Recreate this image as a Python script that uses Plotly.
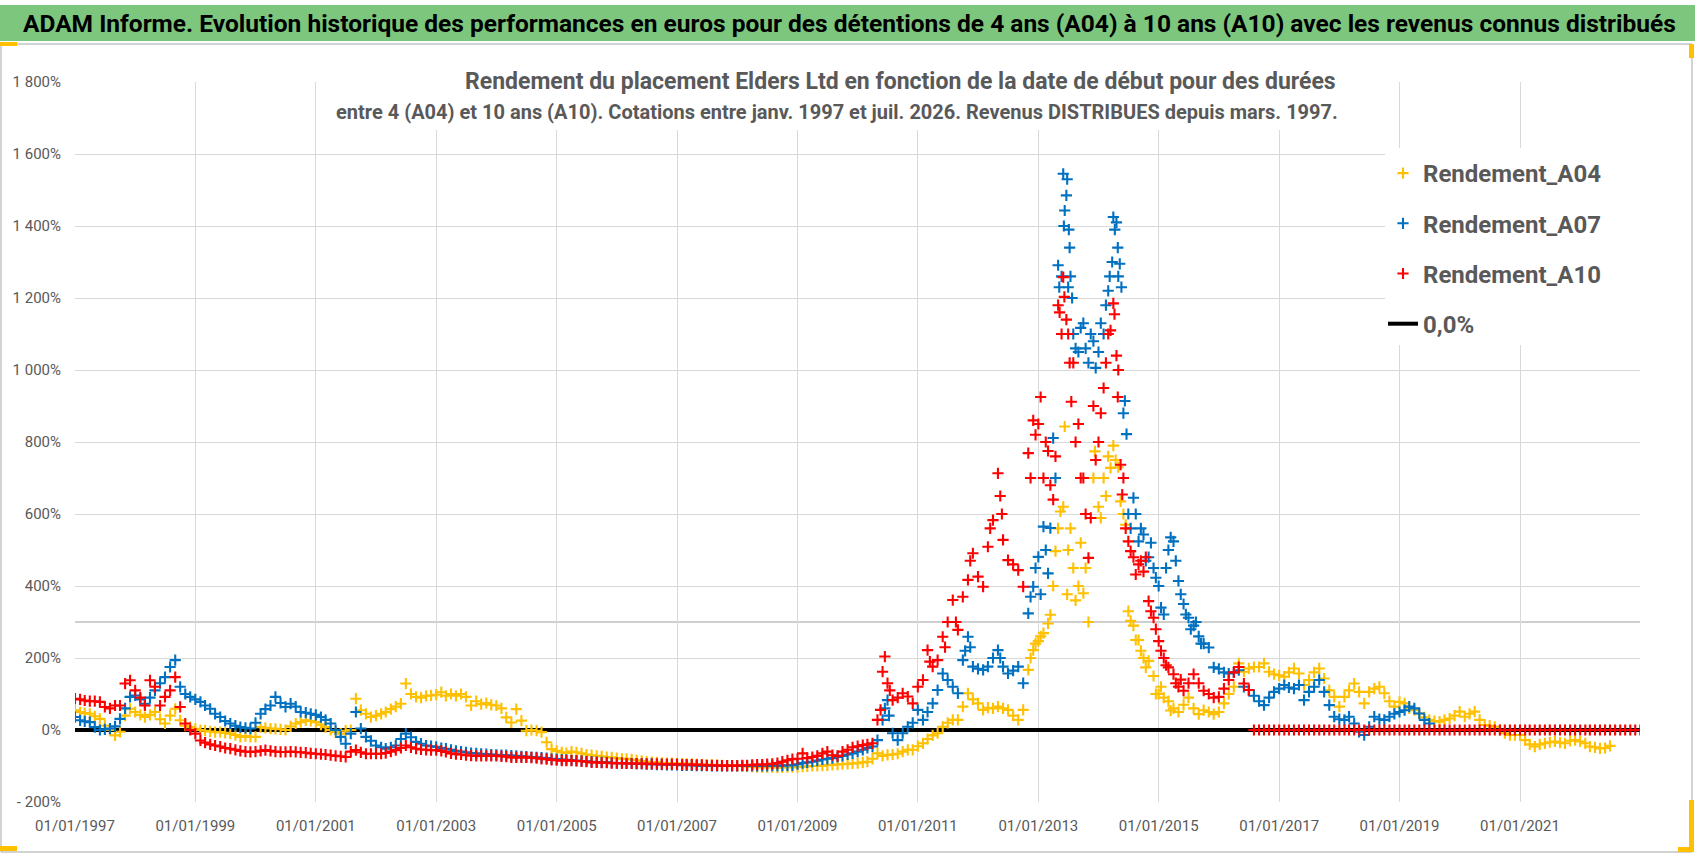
import pandas as pd
import plotly.graph_objects as go

# ---------------- data (% values) ----------------
A04_start = "1997-01-01"
A04_monthly = [
    55, 50, 47, 45, 38, 31, 12, 0, -15, -5, 40, 59,            # 1997
    50, 42, 36, 42, 50, 30, 18, 40, 59, 27, 12, 8,             # 1998
    3, 0, -2, -4, -6, -6, -8, -10, -14, -19, -17, -19,         # 1999
    -19, 8, 6, 4, 3, 2, 0, 10, 18, 22, 27, 25,                 # 2000
    22, 15, 8, 0, -6, -10, -2, 0, 87, 55, 45, 36,              # 2001
    40, 45, 50, 58, 65, 73, 129, 100, 92, 90, 95, 96,          # 2002
    98, 105, 95, 100, 95, 100, 92, 68, 80, 72, 75, 70,         # 2003
    68, 60, 35, 21, 58, 26, -2, 0, -2, -6, -34, -53,           # 2004
    -58, -62, -64, -60, -62, -65, -68, -70, -72, -73, -75, -76,  # 2005
    -78, -80, -80, -82, -84, -86, -88, -89, -90, -91, -92, -92,  # 2006
    -93, -93, -94, -94, -95, -96, -97, -97, -98, -98, -99, -99,  # 2007
    -100, -100, -101, -102, -103, -103, -103, -103, -104, -104, -103, -103,  # 2008
    -103, -102, -101, -100, -100, -99, -98, -97, -96, -95, -94, -93,  # 2009
    -92, -90, -88, -80, -65, -72, -69, -68, -66, -60, -55, -55,  # 2010
    -45, -37, -25, -15, -9, 9, 20, 28, 28, 65, 102, 85,        # 2011
    74, 56, 62, 60, 65, 60, 56, 40, 28, 56, 167, 222,          # 2012
    247, 269, 296, 400, 560, 620, 500, 450, 400, 380, 300, 700,  # 2013
    620, 700, 760, 790, 730, 600, 330, 290, 250, 200, 192, 150,  # 2014
    100, 90, 80, 60, 50, 70, 90, 60, 44, 55, 50, 44,           # 2015
    50, 74, 100, 120, 185, 162, 171, 175, 175, 185, 162, 155,  # 2016
    152, 148, 160, 171, 157, 125, 139, 160, 171, 143, 110, 92,  # 2017
    65, 92, 110, 129, 106, 74, 106, 115, 120, 102, 80, 65,     # 2018
    78, 74, 60, 55, 46, 35, 28, 25, 23, 28, 32, 40,            # 2019
    51, 37, 45, 51, 28, 14, 12, 9, 0, -9, -14, -14,            # 2020
    -14, -28, -40, -46, -40, -37, -34, -32, -35, -37, -30, -28,  # 2021
    -32, -37, -46, -48, -51, -50, -44,                         # 2022
]
A04_extra_dates = ["2012-11-15", "2012-12-15", "2013-01-15", "2013-03-15", "2013-04-15",
                   "2013-05-15", "2013-06-10", "2013-06-25", "2013-07-15", "2013-08-15",
                   "2013-09-15", "2013-10-15", "2013-12-10", "2014-01-15", "2014-02-15",
                   "2014-03-15", "2014-04-15", "2014-05-15", "2014-06-15", "2014-07-15",
                   "2014-08-15", "2014-09-15", "2014-10-15", "2014-12-15", "2015-01-15",
                   "2015-03-15"]
A04_extra_vals = [200, 240, 260, 320, 497, 607, 843, 377, 560, 360, 520, 450, 774, 589, 650,
                  728, 750, 635, 570, 303, 250, 220, 174, 100, 120, 54]

A07_start = "1997-01-01"
A07_monthly = [
    36, 27, 24, 22, 8, 0, 2, 4, 10, 31, 60, 92,                # 1997
    96, 85, 73, 90, 110, 130, 147, 175, 194, 120, 100, 92,     # 1998
    85, 78, 68, 59, 45, 36, 25, 18, 12, 8, 6, 4,               # 1999
    20, 45, 58, 68, 92, 75, 64, 73, 65, 50, 48, 45,            # 2000
    42, 36, 28, 18, 0, -19, -38, -10, 50, 4, -19, -30,         # 2001
    -43, -48, -52, -48, -43, -25, -10, -20, -33, -38, -43, -45,  # 2002
    -47, -50, -52, -55, -58, -60, -62, -64, -65, -66, -67, -68,  # 2003
    -69, -70, -70, -71, -72, -73, -74, -75, -76, -77, -78, -80,  # 2004
    -81, -82, -83, -84, -85, -86, -87, -88, -89, -90, -90, -91,  # 2005
    -92, -92, -93, -93, -94, -94, -95, -95, -96, -96, -97, -97,  # 2006
    -97, -98, -98, -98, -99, -99, -99, -100, -100, -100, -100, -100,  # 2007
    -100, -100, -100, -100, -100, -100, -100, -99, -99, -99, -98, -98,  # 2008
    -95, -92, -90, -88, -85, -82, -80, -78, -75, -72, -68, -65,  # 2009
    -60, -55, -50, -46, -28, 28, 83, -9, -28, -9, 9, 20,       # 2010
    56, 28, 50, 74, 111, 157, 139, 120, 102, 194, 259, 176,    # 2011
    170, 167, 176, 200, 222, 176, 157, 165, 176, 130, 324, 398,  # 2012
    481, 565, 435, 811, 1291, 1545, 1230, 1100, 1050, 1130, 1020, 1080,  # 2013
    1050, 1100, 1220, 1425, 1260, 880, 600, 645, 524, 543, 480, 450,  # 2014
    400, 321, 500, 524, 414, 350, 312, 290, 260, 240, 229, 174,  # 2015
    170, 160, 157, 160, 166, 120, 111, 95, 80, 69, 90, 106,    # 2016
    115, 125, 118, 115, 125, 83, 106, 120, 139, 106, 69, 37,   # 2017
    30, 28, 37, 18, -5, -14, 9, 37, 30, 28, 37, 45,            # 2018
    50, 55, 65, 60, 46, 28, 18,                                # 2019
]
A07_extra_dates = ["2010-06-15", "2010-07-10", "2011-10-15", "2011-11-15", "2012-05-15",
                   "2012-11-15", "2012-12-15", "2013-01-15", "2013-02-15", "2013-03-15",
                   "2013-04-15", "2013-05-08", "2013-05-22", "2013-06-05", "2013-06-10",
                   "2013-06-20", "2013-06-25", "2013-07-05", "2013-07-10", "2013-07-15",
                   "2013-07-25", "2013-08-15", "2013-09-15", "2013-10-15", "2013-11-15",
                   "2013-12-15", "2014-01-15", "2014-02-15", "2014-03-10", "2014-03-25",
                   "2014-04-10", "2014-04-20", "2014-04-28", "2014-05-10", "2014-05-20",
                   "2014-06-10", "2014-06-20", "2014-07-15", "2014-08-15", "2014-09-15",
                   "2014-10-15", "2014-11-15", "2014-12-15", "2015-01-15", "2015-02-15",
                   "2015-03-15", "2015-04-15", "2015-05-15", "2015-06-15", "2015-07-15",
                   "2015-08-15", "2015-09-15"]
A07_extra_vals = [60, 40, 220, 230, 200, 370, 450, 377, 500, 561, 700, 1230, 1260, 1400, 1443,
                  1485, 1530, 1390, 1340, 1260, 1200, 1060, 1117, 1060, 1100, 1006, 1130, 1180,
                  1260, 1300, 1390, 1410, 1340, 1295, 1230, 914, 822, 560, 600, 560, 470, 520,
                  423, 340, 450, 535, 470, 377, 321, 280, 300, 240]

A10_start = "1997-01-01"
A10_monthly = [
    87, 85, 82, 80, 80, 78, 64, 60, 68, 68, 129, 138,          # 1997
    110, 90, 68, 138, 120, 68, 92, 110, 147, 64, 18, 0,        # 1998
    -10, -29, -35, -40, -43, -46, -50, -52, -55, -58, -60, -61,  # 1999
    -60, -58, -56, -58, -60, -61, -61, -60, -61, -62, -63, -65,  # 2000
    -66, -67, -68, -70, -72, -73, -75, -60, -56, -62, -66, -66,  # 2001
    -66, -66, -64, -60, -56, -50, -43, -48, -52, -54, -55, -56,  # 2002
    -56, -58, -61, -65, -67, -68, -70, -71, -72, -72, -72, -72,  # 2003
    -72, -73, -74, -76, -76, -76, -76, -77, -78, -80, -81, -83,  # 2004
    -84, -85, -85, -85, -86, -87, -88, -90, -90, -91, -91, -92,  # 2005
    -92, -92, -93, -93, -93, -93, -94, -94, -94, -95, -95, -95,  # 2006
    -95, -96, -96, -96, -97, -97, -98, -98, -98, -99, -99, -99,  # 2007
    -99, -98, -98, -97, -96, -96, -95, -94, -92, -88, -84, -81,  # 2008
    -80, -65, -78, -75, -72, -65, -60, -70, -72, -60, -55, -48,  # 2009
    -45, -42, -40, -37, 28, 162, 130, 83, 90, 102, 93, 74,     # 2010
    120, 139, 222, 176, 194, 259, 300, 361, 278, 370, 417, 491,  # 2011
    426, 398, 509, 583, 713, 528, 472, 460, 444, 398, 769, 860,  # 2012
    850, 700, 775, 640, 1180, 1258, 1100, 1020, 850, 700, 478, 900,  # 2013
    800, 950, 1100, 1185, 1000, 700, 524, 480, 460, 440, 358, 312,  # 2014
    247, 200, 174, 155, 120, 109, 130, 155, 130, 109, 100, 90,  # 2015
    92, 115, 139, 160, 175, 129, 111, 0, 0, 0, 0, 0,           # 2016
    0, 0, 0, 0, 0, 0, 0, 0, 0, 0, 0, 0,                        # 2017
    0, 0, 0, 0, 0, 0, 0, 0, 0, 0, 0, 0,                        # 2018
    0, 0, 0, 0, 0, 0, 0, 0, 0, 0, 0, 0,                        # 2019
    0, 0, 0, 0, 0, 0, 0, 0, 0, 0, 0, 0,                        # 2020
    0, 0, 0, 0, 0, 0, 0, 0, 0, 0, 0, 0,                        # 2021
    0, 0, 0, 0, 0, 0, 0, 0, 0, 0, 0, 0,                        # 2022
    0,                                                         # 2023
]
A10_extra_dates = ["2010-05-20", "2010-06-15", "2010-07-15", "2011-03-15", "2011-06-15",
                   "2011-08-20", "2011-11-15", "2012-03-15", "2012-05-15", "2012-05-25",
                   "2012-11-15", "2012-12-15", "2013-01-15", "2013-02-15", "2013-03-15",
                   "2013-04-15", "2013-05-10", "2013-05-22", "2013-06-08", "2013-06-20",
                   "2013-07-10", "2013-07-20", "2013-08-15", "2013-09-15", "2013-10-15",
                   "2013-11-15", "2013-12-15", "2014-01-15", "2014-02-15", "2014-03-15",
                   "2014-04-08", "2014-04-20", "2014-04-28", "2014-05-15", "2014-05-25",
                   "2014-06-15", "2014-07-15", "2014-08-15", "2014-09-15", "2014-10-15",
                   "2014-11-15", "2014-12-15", "2015-01-15", "2015-02-15", "2015-04-15",
                   "2015-05-15"]
A10_extra_vals = [56, 204, 110, 190, 230, 300, 470, 560, 650, 600, 700, 820, 925, 800, 680,
                  760, 1160, 1100, 1203, 1140, 1020, 912, 800, 700, 600, 589, 750, 880, 1020,
                  1110, 1155, 1040, 925, 737, 654, 560, 497, 432, 470, 480, 330, 280, 220, 180,
                  130, 140]

ZERO_dates = ["1997-01-01", "2023-01-01"]
ZERO_vals = [0, 0]

x_tick_dates = ["1997-01-01", "1999-01-01", "2001-01-01", "2003-01-01", "2005-01-01",
                "2007-01-01", "2009-01-01", "2011-01-01", "2013-01-01", "2015-01-01",
                "2017-01-01", "2019-01-01", "2021-01-01"]
x_tick_labels = ["01/01/1997", "01/01/1999", "01/01/2001", "01/01/2003", "01/01/2005",
                 "01/01/2007", "01/01/2009", "01/01/2011", "01/01/2013", "01/01/2015",
                 "01/01/2017", "01/01/2019", "01/01/2021"]
y_tick_vals = [-200, 0, 200, 400, 600, 800, 1000, 1200, 1400, 1600, 1800]
y_tick_labels = ["- 200%", "0%", "200%", "400%", "600%", "800%", "1 000%", "1 200%",
                 "1 400%", "1 600%", "1 800%"]

TITLE = ("ADAM Informe. Evolution historique des performances en euros pour des détentions "
         "de 4 ans (A04) à 10 ans (A10) avec les revenus connus distribués")
SUB1 = "Rendement du placement Elders Ltd en fonction de la date de début pour des durées"
SUB2 = ("entre 4 (A04) et 10 ans (A10). Cotations entre janv. 1997 et juil. 2026. "
        "Revenus DISTRIBUES depuis mars. 1997.")

# ---------------- figure ----------------
W, H = 1698, 856
L, R, T, B = 75, 1640, 82, 802   # plot area in pixels
FONT = "Roboto"
GREY = "#595959"


def px(x):
    return (x - L) / (R - L)


def py(y):
    return (B - y) / (B - T)


def series(start, monthly, ex_d, ex_v):
    d = pd.date_range(start, periods=len(monthly), freq="MS").strftime("%Y-%m-%d").tolist()
    return d + ex_d, monthly + ex_v


fig = go.Figure()
fig.add_trace(go.Scatter(x=ZERO_dates, y=ZERO_vals, mode="lines", name="<b>0,0%</b>",
                         line=dict(color="black", width=4), legendrank=4,
                         legendgroup="z", hoverinfo="skip"))
for nm, col, st, mo, ed, ev, rk in [
    ("Rendement_A04", "#FFC000", A04_start, A04_monthly, A04_extra_dates, A04_extra_vals, 1),
    ("Rendement_A07", "#0070C0", A07_start, A07_monthly, A07_extra_dates, A07_extra_vals, 2),
    ("Rendement_A10", "#FF0000", A10_start, A10_monthly, A10_extra_dates, A10_extra_vals, 3),
]:
    xs, ys = series(st, mo, ed, ev)
    fig.add_trace(go.Scatter(x=xs, y=ys, mode="markers", name="<b>" + nm + "</b>",
                             legendrank=rk, legendgroup=nm,
                             marker=dict(symbol="cross-thin", size=8, color=col,
                                         line=dict(color=col, width=2.1))))

shapes = [
    # green title bar
    dict(type="rect", xref="paper", yref="paper", x0=px(0), x1=px(1695), y0=py(41), y1=py(5),
         fillcolor="#7DC67D", line=dict(width=0), layer="above"),
    # chart frame
    dict(type="rect", xref="paper", yref="paper", x0=px(1), x1=px(1692), y0=py(852), y1=py(44),
         line=dict(color="#A6A6A6", width=1), layer="below"),
    # white box behind subtitle
    dict(type="rect", xref="paper", yref="paper", x0=px(344), x1=px(1345), y0=py(130), y1=py(60),
         fillcolor="white", line=dict(width=0), layer="above"),
    # white box behind legend
    dict(type="rect", xref="paper", yref="paper", x0=px(1385), x1=px(1641), y0=py(345), y1=py(148),
         fillcolor="white", line=dict(width=0), layer="above"),
    # darker horizontal line at 300 %
    dict(type="line", xref="paper", yref="y", x0=0, x1=1, y0=300, y1=300,
         line=dict(color="#BFBFBF", width=1.5), layer="below"),
    # orange selection handles
    dict(type="rect", xref="paper", yref="paper", x0=px(0), x1=px(17), y0=py(46), y1=py(42),
         fillcolor="#FFC000", line=dict(width=0)),
    dict(type="rect", xref="paper", yref="paper", x0=px(0), x1=px(17), y0=py(851), y1=py(846),
         fillcolor="#FFC000", line=dict(width=0)),
    dict(type="rect", xref="paper", yref="paper", x0=px(1689), x1=px(1694), y0=py(58), y1=py(44),
         fillcolor="#FFC000", line=dict(width=0)),
    dict(type="rect", xref="paper", yref="paper", x0=px(1689), x1=px(1694), y0=py(852), y1=py(800),
         fillcolor="#FFC000", line=dict(width=0)),
    dict(type="rect", xref="paper", yref="paper", x0=px(1678), x1=px(1694), y0=py(852), y1=py(847),
         fillcolor="#FFC000", line=dict(width=0)),
]

annotations = [
    dict(text="<b>" + TITLE + "</b>", xref="paper", yref="paper", x=px(849), y=py(23),
         xanchor="center", yanchor="middle", showarrow=False,
         font=dict(family=FONT, size=24.5, color="black")),
    dict(text="<b>" + SUB1 + "</b>", xref="paper", yref="paper", x=px(1338), y=py(81),
         xanchor="right", yanchor="middle", showarrow=False,
         font=dict(family=FONT, size=23, color=GREY)),
    dict(text="<b>" + SUB2 + "</b>", xref="paper", yref="paper", x=px(1340), y=py(112),
         xanchor="right", yanchor="middle", showarrow=False,
         font=dict(family=FONT, size=20, color=GREY)),
]

fig.update_layout(
    width=W, height=H, autosize=False,
    margin=dict(l=L, r=W - R, t=T, b=H - B, pad=0, autoexpand=False),
    paper_bgcolor="white", plot_bgcolor="white",
    shapes=shapes, annotations=annotations,
    showlegend=True,
    legend=dict(x=px(1383), y=py(151), xanchor="left", yanchor="top",
                bgcolor="rgba(0,0,0,0)", borderwidth=0, tracegroupgap=16,
                font=dict(family=FONT, size=24, color=GREY),
                itemclick=False, itemdoubleclick=False),
    xaxis=dict(type="date", range=["1997-01-01", "2022-12-30"], tickmode="array",
               tickvals=x_tick_dates, ticktext=x_tick_labels, showgrid=True,
               gridcolor="#D9D9D9", gridwidth=1, zeroline=False, showline=False, ticks="",
               tickfont=dict(family=FONT, size=15, color=GREY), ticklabelstandoff=13),
    yaxis=dict(range=[-200, 1800], tickmode="array", tickvals=y_tick_vals,
               ticktext=y_tick_labels, showgrid=True, gridcolor="#D9D9D9", gridwidth=1,
               zeroline=False, showline=False, ticks="",
               tickfont=dict(family=FONT, size=15, color=GREY), ticklabelstandoff=13),
)

fig.write_html("out.html", config={"displayModeBar": False},
               post_script="document.body.style.margin='0px';"
                           "document.body.style.overflow='hidden';")
